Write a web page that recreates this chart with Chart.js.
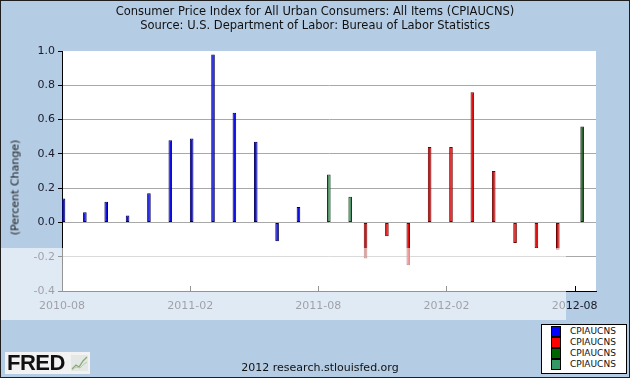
<!DOCTYPE html>
<html>
<head>
<meta charset="utf-8">
<script src="https://cdn.jsdelivr.net/npm/chart.js@4/dist/chart.umd.min.js"></script>
<style>
html,body{margin:0;padding:0;background:#fff;}
#wrap{position:relative;width:630px;height:378px;background:#b4cce4;overflow:hidden;font-family:"DejaVu Sans",Verdana,sans-serif;}
#c{position:absolute;left:0;top:0;}
.title{position:absolute;left:0;width:630px;text-align:center;font-size:11.5px;line-height:13px;color:#111;white-space:nowrap;}
#ytitle{position:absolute;left:-40px;top:181px;width:110px;height:13px;line-height:13px;text-align:center;transform:rotate(-90deg);font-size:11px;font-weight:normal;color:#1a1a1a;white-space:nowrap;}
#band{position:absolute;left:0;top:248px;width:566px;height:72px;background:rgba(255,255,255,0.58);pointer-events:none;}
#footer{position:absolute;left:240px;width:160px;top:361px;text-align:center;font-size:11px;line-height:13px;color:#111;white-space:nowrap;}
#legend{position:absolute;left:541px;top:324px;width:86px;height:50px;box-sizing:border-box;border:1px solid #000;background:#fff;}
#legend .row{position:absolute;left:0;height:11px;width:84px;}
#legend .sw{position:absolute;left:9px;top:0;width:10px;height:11px;box-sizing:border-box;border:1px solid #000;}
#legend .lt{position:absolute;left:28px;top:0;font-size:9px;line-height:11px;color:#111;}
#fred{position:absolute;left:5px;top:352px;width:85px;height:22px;background:#f2f2f2;}
#fred .t{position:absolute;left:2px;top:-1px;font-family:"Liberation Sans",Arial,sans-serif;font-weight:bold;font-size:22px;line-height:24px;color:#111;letter-spacing:-0.5px;}
#fred svg{position:absolute;left:66px;top:3px;}
#border{position:absolute;left:0;top:0;width:630px;height:378px;box-sizing:border-box;border:1px solid #1e1e1e;pointer-events:none;}
</style>
</head>
<body>
<div id="wrap">
  <canvas id="c" width="630" height="378"></canvas>
  <div class="title" style="top:5px;">Consumer Price Index for All Urban Consumers: All Items (CPIAUCNS)</div>
  <div class="title" style="top:19px;">Source: U.S. Department of Labor: Bureau of Labor Statistics</div>
  <div id="ytitle">(Percent Change)</div>
  <div id="band"></div>
  <div id="fred"><span class="t">FRED</span>
    <svg width="17" height="16" viewBox="0 0 17 16"><rect x="0" y="0" width="17" height="16" fill="#e4e8e4"/><polyline points="1,14 5,10 8,12 12,6 16,2" fill="none" stroke="#8aa878" stroke-width="1.3"/><polyline points="1,15 5,12 9,13 13,9 16,7" fill="none" stroke="#b8c8b0" stroke-width="1"/></svg>
  </div>
  <div id="footer">2012 research.stlouisfed.org</div>
  <div id="legend"></div>
  <div id="border"></div>
</div>
<script>
// ---- data ----
const months = ['2010-08','2010-09','2010-10','2010-11','2010-12','2011-01','2011-02','2011-03','2011-04','2011-05','2011-06','2011-07',
                '2011-08','2011-09','2011-10','2011-11','2011-12','2012-01','2012-02','2012-03','2012-04','2012-05','2012-06','2012-07','2012-08'];
const tickLabels = ['2010-08','2011-02','2011-08','2012-02','2012-08'];
const yTicks = [-0.4,-0.2,0.0,0.2,0.4,0.6,0.8,1.0];

const seriesNames = ['CPIAUCNS','CPIAUCNS','CPIAUCNS','CPIAUCNS'];
const blueStart = '2010-08';
const blueValues = [0.14,0.06,0.12,0.04,0.17,0.48,0.49,0.98,0.64,0.47,-0.11,0.09];
const redStart = '2011-10';
const redValues = [-0.21,-0.08,-0.25,0.44,0.44,0.76,0.30,-0.12,-0.15,-0.16];
const darkGreenStart = '2012-08';
const darkGreenValues = [0.56];
const seaGreenStart = '2011-08';
const seaGreenValues = [0.28,0.15];

// ---- styling ----
const series = [
  {name: seriesNames[0], start: blueStart, values: blueValues, fill:'#1010e0', edge:'#00005a', legend:'#0000ff'},
  {name: seriesNames[1], start: redStart, values: redValues, fill:'#e01010', edge:'#6e0000', legend:'#ff0000'},
  {name: seriesNames[2], start: darkGreenStart, values: darkGreenValues, fill:'#1e5a1e', edge:'#0a200a', legend:'#006400'},
  {name: seriesNames[3], start: seaGreenStart, values: seaGreenValues, fill:'#4f9466', edge:'#103a1c', legend:'#339966'}
];
const shift = 0.281; // month-slot origin relative to the bar group centre

const datasets = series.map(s => {
  const i0 = months.indexOf(s.start);
  return {
    label: s.name,
    data: s.values.map((v, i) => ({x: i0 + i, y: v})),
    backgroundColor: s.fill,
    borderColor: s.edge,
    borderWidth: 1,
    borderSkipped: false,
    categoryPercentage: 0.562,
    barPercentage: 1.2,
    inflateAmount: 0
  };
});

const plotBg = {
  id: 'plotBg',
  beforeDraw(chart) {
    const {ctx, chartArea: a} = chart;
    ctx.save();
    ctx.fillStyle = '#ffffff';
    ctx.fillRect(a.left, a.top, a.right - a.left, a.bottom - a.top);
    ctx.restore();
  }
};
const inwardTicks = {
  id: 'inwardTicks',
  afterDraw(chart) {
    const {ctx, chartArea: a} = chart;
    const xs = chart.scales.x;
    ctx.save();
    ctx.strokeStyle = '#000';
    ctx.lineWidth = 1;
    xs.ticks.forEach(t => {
      const px = Math.round(xs.getPixelForValue(t.value)) + 0.5;
      ctx.beginPath();
      ctx.moveTo(px, a.bottom);
      ctx.lineTo(px, a.bottom - 5);
      ctx.stroke();
    });
    ctx.restore();
  }
};

new Chart(document.getElementById('c'), {
  type: 'bar',
  data: {datasets},
  options: {
    responsive: false,
    animation: false,
    devicePixelRatio: 1,
    layout: {padding: {left: 0, top: 51, right: 34, bottom: 62}},
    plugins: {legend: {display: false}, tooltip: {enabled: false}, title: {display: false}},
    scales: {
      x: {
        type: 'linear',
        offset: false,
        min: -shift,
        max: months.length - shift,
        afterBuildTicks: s => { s.ticks = tickLabels.map(l => ({value: months.indexOf(l) - shift})); },
        afterFit: s => { s.height = 25; },
        ticks: {
          autoSkip: false, maxRotation: 0, padding: 9,
          font: {family: 'DejaVu Sans', size: 11}, color: '#1a1a2a',
          callback: v => months[Math.round(v + shift)]
        },
        grid: {drawOnChartArea: false, drawTicks: false, offset: false},
        border: {color: '#000', width: 1}
      },
      y: {
        min: yTicks[0],
        max: yTicks[yTicks.length - 1],
        afterBuildTicks: s => { s.ticks = yTicks.map(v => ({value: v})); },
        afterFit: s => { s.width = 62; },
        ticks: {
          padding: 3,
          font: {family: 'DejaVu Sans', size: 11}, color: '#1a1a2a',
          callback: v => (Math.abs(v) < 1e-9 ? 0 : v).toFixed(1)
        },
        grid: {
          color: c => c.index === 0 ? '#000' : (c.index === yTicks.length - 1 ? 'rgba(0,0,0,0)' : '#a8a8a8'),
          tickColor: '#000', tickLength: 4
        },
        border: {color: '#000', width: 1}
      }
    }
  },
  plugins: [plotBg, inwardTicks]
});

// legend built from the series list
const lg = document.getElementById('legend');
series.forEach((s, i) => {
  const row = document.createElement('div');
  row.className = 'row';
  row.style.top = (1 + i * 11) + 'px';
  row.innerHTML = '<span class="sw" style="background:' + s.legend + '"></span><span class="lt">' + s.name + '</span>';
  lg.appendChild(row);
});
</script>
</body>
</html>
